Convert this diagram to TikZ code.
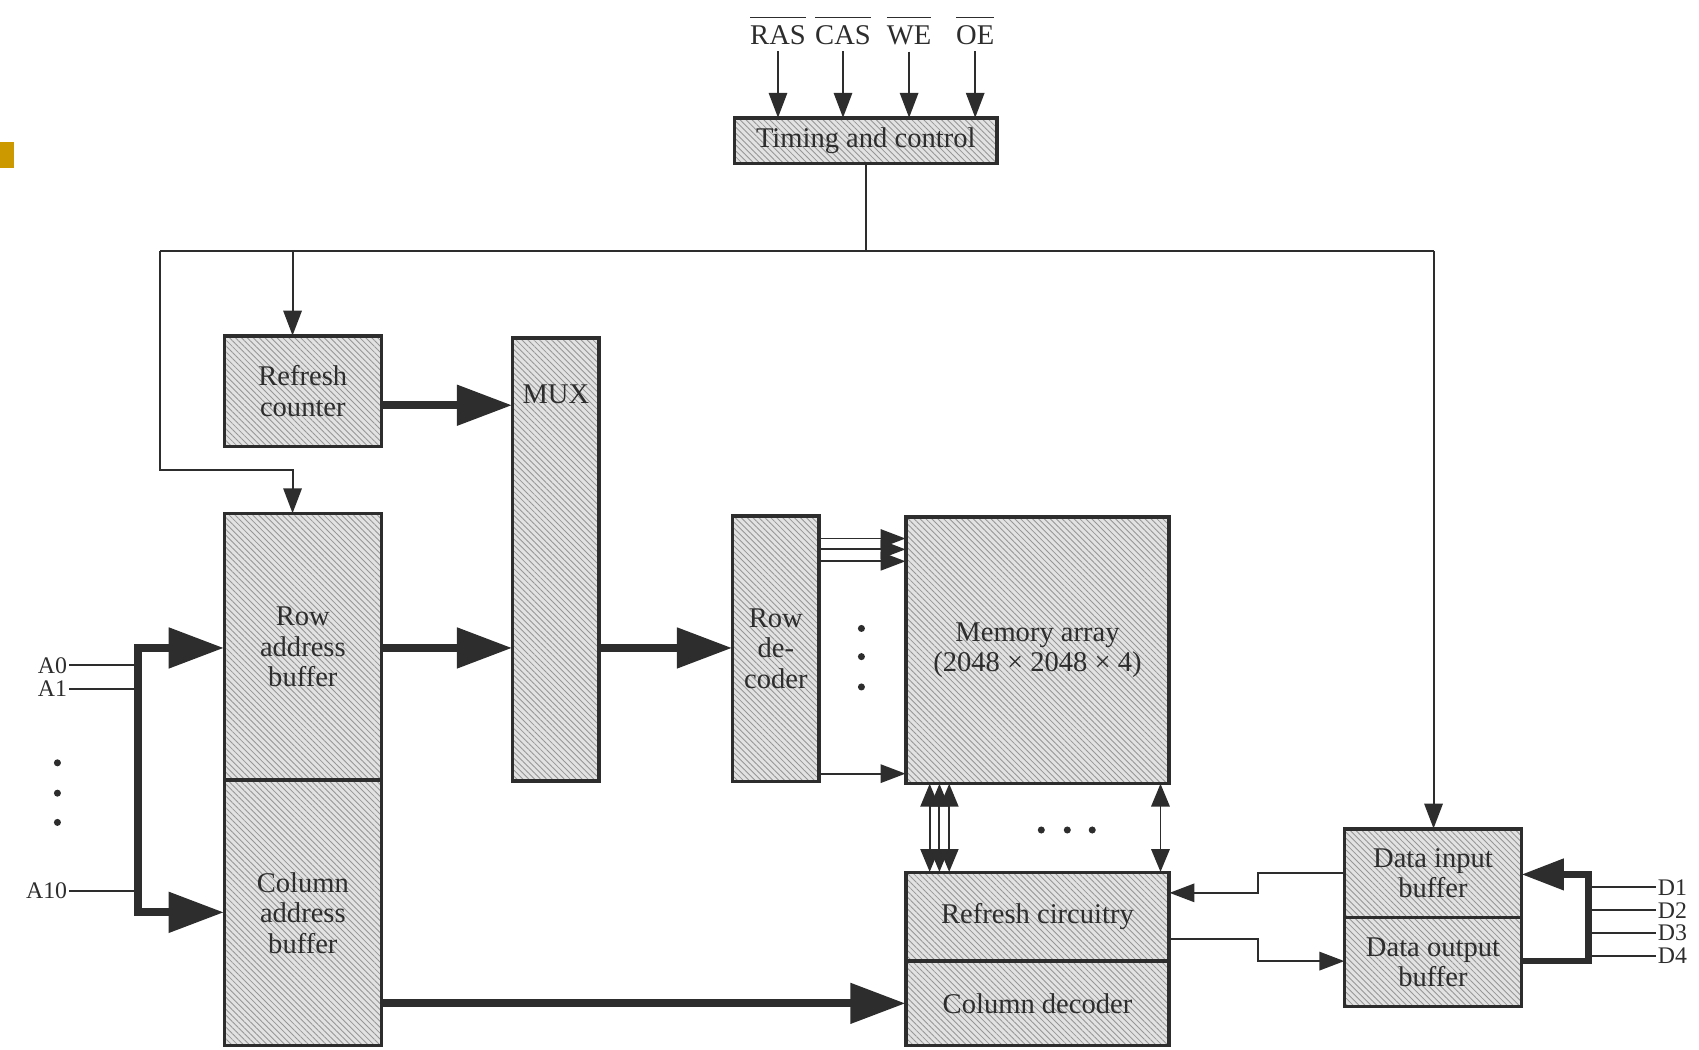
\documentclass[tikz,border=0pt]{standalone}
\usepackage{fontspec}
\setmainfont{Liberation Serif}
\usetikzlibrary{arrows.meta,patterns.meta}
\definecolor{ink}{RGB}{45,45,45}
\definecolor{boxfill}{RGB}{226,226,226}
\definecolor{hatch}{RGB}{150,150,150}
\definecolor{bullet}{RGB}{204,153,0}
\newcommand{\barsig}[1]{$\overline{\mbox{\rule{0pt}{13pt}#1}}$}
\begin{document}
\begin{tikzpicture}[x=0.02cm,y=-0.02cm,
  font=\fontsize{15}{16}\selectfont,
  every node/.style={text=ink},
  blk/.style={fill=boxfill,
     postaction={pattern={Lines[angle=-45,distance=2.2pt,line width=0.45pt]}, pattern color=hatch},
     postaction={draw=ink, line width=1.8pt},
     inner sep=0pt, align=center},
  lbl/.style={inner sep=1pt, font=\fontsize{12.5}{13}\selectfont},
  sig/.style={draw=ink, line width=1pt, -{Triangle[length=0.46cm,width=0.34cm]}},
  wire/.style={draw=ink, line width=1pt},
  dsig/.style={draw=ink, line width=1pt, {Triangle[length=0.42cm,width=0.34cm]}-{Triangle[length=0.42cm,width=0.34cm]}},
  bus/.style={draw=ink, line width=0.15cm, -{Triangle[length=1.02cm,width=0.72cm]}},
  busline/.style={draw=ink, line width=0.12cm},
  dbus/.style={draw=ink, line width=0.12cm, -{Triangle[length=0.78cm,width=0.56cm]}}
]
\useasboundingbox (0,0) rectangle (1568,969);

% slide bullet
\fill[bullet] (0,131) rectangle (13,155);

% control inputs
\node[anchor=base] (ras) at (718,41) {\barsig{RAS}};
\node[anchor=base] (cas) at (778,41) {\barsig{CAS}};
\node[anchor=base] (we) at (839,41) {\barsig{WE}};
\node[anchor=base] (oe) at (900,41) {\barsig{OE}};

% blocks
\node[blk, minimum width=4.84cm, minimum height=0.84cm] (timing) at (799,130) {Timing and control};
\node[blk, minimum width=2.9cm, minimum height=2.04cm] (rc) at (279.5,361) {Refresh\\counter};
\node[blk, minimum width=1.6cm, minimum height=8.18cm,
      label={[anchor=center,yshift=-1.04cm]north:MUX}] (mux) at (513,516.5) {};
\node[blk, minimum width=2.9cm, minimum height=4.92cm] (rab) at (279.5,597) {Row\\address\\buffer};
\node[blk, minimum width=2.9cm, minimum height=4.9cm] (cab) at (279.5,842.5) {Column\\address\\buffer};
\node[blk, minimum width=1.6cm, minimum height=4.9cm] (rdec) at (716,598.5) {Row\\de-\\coder};
\node[blk, minimum width=4.86cm, minimum height=4.92cm] (mem) at (957.5,600) {Memory array\\(2048 × 2048 × 4)};
\node[blk, minimum width=4.86cm, minimum height=1.64cm] (rcir) at (957.5,846) {Refresh circuitry};
\node[blk, minimum width=4.86cm, minimum height=1.56cm] (cdec) at (957.5,926) {Column decoder};
\node[blk, minimum width=3.26cm, minimum height=1.64cm] (dib) at (1322.5,806) {Data input\\buffer};
\node[blk, minimum width=3.26cm, minimum height=1.64cm] (dob) at (1322.5,888) {Data output\\buffer};

% control signals
\foreach \n in {ras,cas,we,oe} \draw[sig] (\n.south) -- (\n.south |- timing.north);

\coordinate (tl) at (148,232);
\coordinate (tr) at (1323,232);
\coordinate (lb) at (148,434);
\coordinate (rcin) at (270,232);
\draw[wire] (timing.south) -- (timing.south |- tl);
\draw[wire] (tl) -- (tr);
\draw[sig] (tl) -- (lb) -| ([xshift=-0.19cm]rab.north);
\draw[sig] (rcin) -- (rcin |- rc.north);
\draw[sig] (tr) -- (tr |- dib.north);

% thick buses
\draw[bus] (rc.east |- 0,374) -- (mux.west |- 0,374);
\draw[bus] (rab.east |- 0,598) -- (mux.west |- 0,598);
\draw[bus] (mux.east |- 0,598) -- (rdec.west |- 0,598);
\coordinate (abus) at (127,720);
\draw[bus] (abus) |- (rab.west |- 0,598);
\draw[bus] (abus) |- (cab.west |- 0,842);
\draw[bus] (cab.east |- 0,926) -- (cdec.west |- 0,926);

% address inputs
\node[lbl, anchor=east] (a0) at (64,614) {A0};
\node[lbl, anchor=east] (a1) at (64,636) {A1};
\node[lbl, anchor=east] (a10) at (64,822) {A10};
\foreach \n in {a0,a1,a10} \draw[wire] (\n.east) -- (\n.east -| abus);
\foreach \y in {704,732,759} \fill[ink] (53,\y) circle (0.065cm);

% row decoder to memory
\foreach \y in {497,507,518,714} \draw[sig] (rdec.east |- 0,\y) -- (mem.west |- 0,\y);
\foreach \y in {580,606,634} \fill[ink] (795,\y) circle (0.065cm);

% memory to refresh circuitry
\foreach \x in {858,867,876,1071} \draw[dsig] (mem.south -| \x,0) -- (rcir.north -| \x,0);
\foreach \x in {961,985,1008} \fill[ink] (\x,766) circle (0.065cm);

% data paths
\draw[sig] (dib.west) -| (1161,824) -- (rcir.east |- 0,824);
\draw[sig] (rcir.east |- 0,867) -| (1161,887) -- (dob.west |- 0,887);

\coordinate (dbus) at (1466,847);
\draw[busline] (dbus) |- (dob.east |- 0,887);
\draw[dbus] (dbus) |- (dib.east |- 0,807);

\node[lbl, anchor=west] (d1) at (1528,819) {D1};
\node[lbl, anchor=west] (d2) at (1528,840) {D2};
\node[lbl, anchor=west] (d3) at (1528,861) {D3};
\node[lbl, anchor=west] (d4) at (1528,882) {D4};
\foreach \n in {d1,d2,d3,d4} \draw[wire] (\n.west) -- (\n.west -| dbus);
\end{tikzpicture}
\end{document}
